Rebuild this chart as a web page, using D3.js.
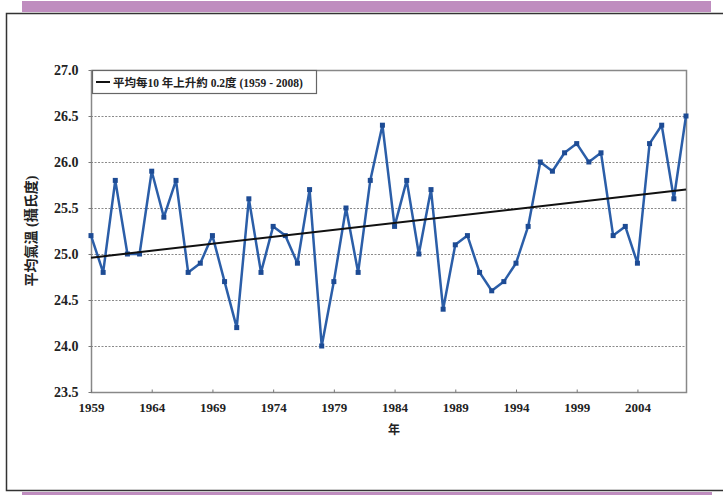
<!DOCTYPE html>
<html>
<head>
<meta charset="utf-8">
<script src="https://cdn.jsdelivr.net/npm/d3@7"></script>
<style>
  html, body { margin: 0; padding: 0; background: #fff; }
  svg { display: block; }
</style>
</head>
<body>
<div id="chart"></div>
<script>
// annual mean temperature
const years = d3.range(1959, 2009);
const temps = [
  25.2, 24.8, 25.8, 25.0, 25.0, 25.9, 25.4, 25.8, 24.8, 24.9,
  25.2, 24.7, 24.2, 25.6, 24.8, 25.3, 25.2, 24.9, 25.7, 24.0,
  24.7, 25.5, 24.8, 25.8, 26.4, 25.3, 25.8, 25.0, 25.7, 24.4,
  25.1, 25.2, 24.8, 24.6, 24.7, 24.9, 25.3, 26.0, 25.9, 26.1,
  26.2, 26.0, 26.1, 25.2, 25.3, 24.9, 26.2, 26.4, 25.6, 26.5
];
const trendYears = [1959, 2008];
const trendValues = [24.96, 25.70];
const xTicks = [1959, 1964, 1969, 1974, 1979, 1984, 1989, 1994, 1999, 2004];
const yTicks = [23.5, 24.0, 24.5, 25.0, 25.5, 26.0, 26.5, 27.0];
const legendLabel = "平均每10 年上升約 0.2度 (1959 - 2008)";
const yTitle = "平均氣溫 (攝氏度)";
const xTitle = "年";

const W = 723, H = 495;
const plot = { left: 91, right: 686, top: 70, bottom: 392 };

const svg = d3.select("#chart").append("svg")
    .attr("width", W).attr("height", H);

// page decoration
svg.append("rect").attr("x", 22).attr("y", 1).attr("width", 689).attr("height", 11)
    .attr("fill", "#bf8dbf");
svg.append("rect").attr("x", 22).attr("y", 492).attr("width", 690).attr("height", 3)
    .attr("fill", "#bf8dbf");
svg.append("path")
    .attr("d", `M${W},13.5 H6.5 V490.5 H${W}`)
    .attr("fill", "none").attr("stroke", "#333").attr("stroke-width", 1.5);

const x = d3.scaleLinear().domain([1959, 2008]).range([plot.left, plot.right]);
const y = d3.scaleLinear().domain([23.5, 27.0]).range([plot.bottom, plot.top]);

const serif = "'Liberation Serif', 'Times New Roman', serif";
const cjk = "'Liberation Serif', 'Noto Sans CJK TC', serif";

// gridlines
svg.append("g").selectAll("line")
  .data(yTicks.filter(d => d > 23.5 && d < 27.0))
  .join("line")
    .attr("x1", plot.left).attr("x2", plot.right)
    .attr("y1", d => Math.round(y(d)) + 0.5).attr("y2", d => Math.round(y(d)) + 0.5)
    .attr("stroke", "#8a8a8a").attr("stroke-width", 1)
    .attr("stroke-dasharray", "2,1.5");

// plot frame
svg.append("rect")
    .attr("x", plot.left + 0.5).attr("y", plot.top + 0.5)
    .attr("width", plot.right - plot.left).attr("height", plot.bottom - plot.top)
    .attr("fill", "none").attr("stroke", "#888").attr("stroke-width", 1.5);

// x axis
const xAxis = svg.append("g")
    .attr("transform", `translate(0,${plot.bottom + 0.5})`)
    .call(d3.axisBottom(x).tickValues(xTicks).tickFormat(d3.format("d"))
      .tickSizeInner(-3).tickSizeOuter(0).tickPadding(10));
xAxis.select(".domain").remove();
xAxis.selectAll(".tick line").attr("stroke", "#777");
xAxis.selectAll("text")
    .attr("font-family", serif).attr("font-size", 13).attr("font-weight", "bold")
    .attr("fill", "#222");

// y axis
const yAxis = svg.append("g")
    .attr("transform", `translate(${plot.left + 0.5},0)`)
    .call(d3.axisLeft(y).tickValues(yTicks).tickFormat(d3.format(".1f"))
      .tickSizeInner(3).tickSizeOuter(0).tickPadding(10));
yAxis.select(".domain").remove();
yAxis.selectAll(".tick line").attr("stroke", "#777");
yAxis.selectAll("text")
    .attr("font-family", serif).attr("font-size", 14).attr("font-weight", "bold")
    .attr("fill", "#222");

// axis titles
svg.append("text")
    .attr("transform", `translate(36,${(plot.top + plot.bottom) / 2}) rotate(-90)`)
    .attr("text-anchor", "middle")
    .attr("font-family", cjk).attr("font-size", 14).attr("font-weight", "bold")
    .attr("fill", "#222")
    .text(yTitle);
svg.append("text")
    .attr("x", 394).attr("y", 434)
    .attr("text-anchor", "middle")
    .attr("font-family", cjk).attr("font-size", 12).attr("font-weight", "bold")
    .attr("fill", "#222")
    .text(xTitle);

// temperature series
const data = years.map((yr, i) => ({ year: yr, value: temps[i] }));
const line = d3.line().x(d => x(d.year)).y(d => y(d.value));

svg.append("path")
    .datum(data)
    .attr("d", line)
    .attr("fill", "none")
    .attr("stroke", "#2b5ea8")
    .attr("stroke-width", 2.5)
    .attr("stroke-linejoin", "round");

svg.append("g").selectAll("rect")
  .data(data)
  .join("rect")
    .attr("x", d => x(d.year) - 2.5).attr("y", d => y(d.value) - 2.5)
    .attr("width", 5).attr("height", 5)
    .attr("fill", "#1d4b94");

// trend line
svg.append("path")
    .datum(trendYears.map((yr, i) => ({ year: yr, value: trendValues[i] })))
    .attr("d", line)
    .attr("fill", "none")
    .attr("stroke", "#111")
    .attr("stroke-width", 2);

// legend
const lg = svg.append("g");
lg.append("rect")
    .attr("x", 92.5).attr("y", 70.5).attr("width", 224).attr("height", 23)
    .attr("fill", "#fff").attr("stroke", "#666").attr("stroke-width", 1.2);
lg.append("line")
    .attr("x1", 96).attr("x2", 110).attr("y1", 82).attr("y2", 82)
    .attr("stroke", "#111").attr("stroke-width", 2);
lg.append("text")
    .attr("x", 113).attr("y", 86.5)
    .attr("font-family", cjk).attr("font-size", 11.5).attr("font-weight", "bold")
    .attr("fill", "#222")
    .text(legendLabel);
</script>
</body>
</html>
